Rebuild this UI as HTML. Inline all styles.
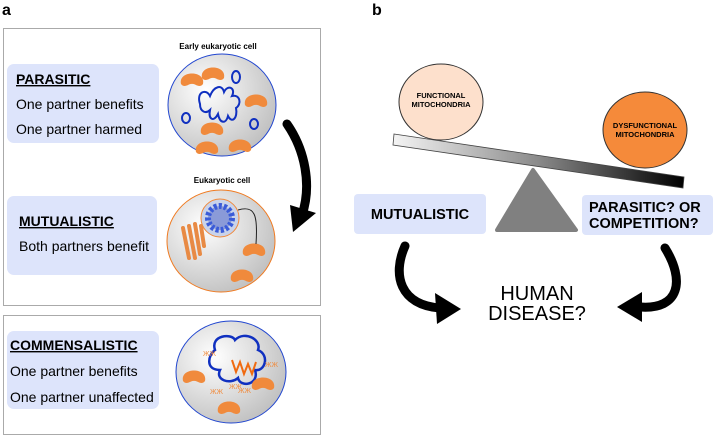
<!DOCTYPE html>
<html><head><meta charset="utf-8"><style>
html,body{margin:0;padding:0;background:#fff}
svg{display:block}
text{font-family:"Liberation Sans",Arial,sans-serif}
</style></head><body>
<svg width="714" height="436" viewBox="0 0 714 436" xmlns="http://www.w3.org/2000/svg">
<defs>
<radialGradient id="cg" cx="0.35" cy="0.35" r="0.75">
<stop offset="0" stop-color="#ffffff"/><stop offset="1" stop-color="#bdbdbd"/>
</radialGradient>
<linearGradient id="beam" x1="0" y1="0" x2="1" y2="0">
<stop offset="0" stop-color="#f4f4f4"/><stop offset="0.5" stop-color="#8a8a8a"/><stop offset="1" stop-color="#000"/>
</linearGradient>
<g id="mito"><path d="M-11,4 C-14,-10 14,-10 11,4 C7,9 3,3 0,4 C-3,3 -7,9 -11,4 Z" fill="#f08a3c"/></g>
</defs>

<text x="2" y="15" font-size="16" font-weight="bold">a</text>
<text x="372" y="15" font-size="16" font-weight="bold">b</text>

<rect x="3.5" y="28.5" width="317" height="277" fill="none" stroke="#555" stroke-dasharray="1,1"/>
<rect x="3.5" y="315.5" width="317" height="119" fill="none" stroke="#555" stroke-dasharray="1,1"/>

<rect x="7" y="64" width="152" height="79" rx="7" fill="#dde4fb"/>
<text x="16" y="84" font-size="14" font-weight="bold" text-decoration="underline">PARASITIC</text>
<text x="16" y="109" font-size="14">One partner benefits</text>
<text x="16" y="134" font-size="14">One partner harmed</text>

<rect x="7" y="196" width="150" height="79" rx="7" fill="#dde4fb"/>
<text x="19" y="226" font-size="14" font-weight="bold" text-decoration="underline">MUTUALISTIC</text>
<text x="19" y="251" font-size="14">Both partners benefit</text>

<rect x="7" y="331" width="152" height="78" rx="7" fill="#dde4fb"/>
<text x="10" y="350" font-size="14" font-weight="bold" text-decoration="underline">COMMENSALISTIC</text>
<text x="10" y="376" font-size="14">One partner benefits</text>
<text x="10" y="402" font-size="14">One partner unaffected</text>

<text x="218" y="49" font-size="8" font-weight="bold" text-anchor="middle">Early eukaryotic cell</text>
<ellipse cx="222" cy="105" rx="54" ry="51" fill="url(#cg)" stroke="#2146d0" stroke-width="1"/>
<use href="#mito" x="192" y="80"/><use href="#mito" x="213" y="74"/><use href="#mito" x="256" y="101"/>
<use href="#mito" x="212" y="129"/><use href="#mito" x="207" y="148"/><use href="#mito" x="240" y="146"/>
<path d="M200,104 C196,92 206,88 210,96 C214,86 222,84 224,92 C228,84 236,88 232,96 C240,94 242,104 236,108 C238,118 232,124 228,116 C226,124 220,124 218,114 C214,122 208,120 210,110 C206,114 200,112 200,104 Z" fill="none" stroke="#1030c0" stroke-width="2"/>
<ellipse cx="236" cy="77" rx="4" ry="6" fill="none" stroke="#1030c0" stroke-width="2"/>
<ellipse cx="186" cy="118" rx="4" ry="5" fill="none" stroke="#1030c0" stroke-width="2"/>
<ellipse cx="254" cy="124" rx="4" ry="5" fill="none" stroke="#1030c0" stroke-width="2"/>

<path d="M287,124 C305,150 312,185 302,215" fill="none" stroke="#000" stroke-width="9" stroke-linecap="round"/>
<polygon points="290,205 316,213 293,232" fill="#000"/>

<text x="222" y="183" font-size="8" font-weight="bold" text-anchor="middle">Eukaryotic cell</text>
<ellipse cx="221" cy="241" rx="54" ry="51" fill="url(#cg)" stroke="#f07a20" stroke-width="1"/>
<circle cx="220" cy="218" r="19" fill="#c9d3ea" stroke="#f08a3c" stroke-width="1"/>
<circle cx="220" cy="218" r="12" fill="#8a9ad8" stroke="#3a5bd8" stroke-width="6" stroke-dasharray="3,2"/>
<path d="M183,228 l6,30 M189,226 l6,32 M195,224 l5,30 M201,226 l3,20" stroke="#e88a44" stroke-width="4" stroke-linecap="round"/>
<use href="#mito" x="254" y="250"/><use href="#mito" x="242" y="276"/>
<path d="M238,210 C255,205 258,215 256,244" fill="none" stroke="#222" stroke-width="1"/>

<ellipse cx="231" cy="372" rx="55" ry="51" fill="url(#cg)" stroke="#2146d0" stroke-width="1"/>
<path d="M215,350 C210,335 232,333 235,340 C245,330 262,340 258,350 C270,355 265,372 255,370 C260,385 240,388 238,378 C230,385 215,380 220,370 C205,370 208,355 215,350 Z" fill="none" stroke="#1030c0" stroke-width="2.5"/>
<path d="M232,360 l4,12 l4,-10 l4,12 l4,-10 l4,10 l4,-12" fill="none" stroke="#f06a10" stroke-width="2"/>
<use href="#mito" x="194" y="377"/><use href="#mito" x="263" y="384"/><use href="#mito" x="229" y="408"/>
<text x="203" y="356" font-size="7" fill="#f08a3c">ЖЖ</text>
<text x="265" y="367" font-size="7" fill="#f08a3c">ЖЖ</text>
<text x="229" y="389" font-size="7" fill="#f08a3c">ЖЖ</text>
<text x="210" y="394" font-size="7" fill="#f08a3c">ЖЖ</text>
<text x="238" y="393" font-size="7" fill="#f08a3c">ЖЖ</text>

<ellipse cx="441" cy="102" rx="42" ry="38" fill="#fde0cc" stroke="#333" stroke-width="1"/>
<text x="441" y="98" font-size="7.5" font-weight="bold" text-anchor="middle">FUNCTIONAL</text>
<text x="441" y="107" font-size="7.5" font-weight="bold" text-anchor="middle">MITOCHONDRIA</text>
<ellipse cx="645" cy="130" rx="42" ry="38" fill="#f58a3a" stroke="#333" stroke-width="1"/>
<text x="645" y="128" font-size="7.5" font-weight="bold" text-anchor="middle">DYSFUNCTIONAL</text>
<text x="645" y="137" font-size="7.5" font-weight="bold" text-anchor="middle">MITOCHONDRIA</text>

<polygon points="533,170 576,230 497,230" fill="#808080" stroke="#808080" stroke-width="4" stroke-linejoin="round"/>
<polygon points="394,134 684,177 683,188 393,145" fill="url(#beam)" stroke="#444" stroke-width="0.8"/>

<rect x="354" y="194" width="132" height="40" rx="4" fill="#dde4fb"/>
<text x="420" y="219" font-size="14.5" font-weight="bold" text-anchor="middle">MUTUALISTIC</text>
<rect x="582" y="195" width="131" height="40" rx="4" fill="#dde4fb"/>
<text x="589" y="212" font-size="14.5" font-weight="bold">PARASITIC? OR</text>
<text x="589" y="228" font-size="14.5" font-weight="bold">COMPETITION?</text>

<text x="537" y="300" font-size="20" text-anchor="middle">HUMAN</text>
<text x="537" y="320" font-size="20" text-anchor="middle">DISEASE?</text>

<path d="M405,246 C392,275 400,305 440,308" fill="none" stroke="#000" stroke-width="9" stroke-linecap="round"/>
<polygon points="435,293 461,309 437,324" fill="#000"/>
<path d="M665,248 C685,280 680,310 640,307" fill="none" stroke="#000" stroke-width="9" stroke-linecap="round"/>
<polygon points="642,292 617,307 642,322" fill="#000"/>
</svg>
</body></html>
